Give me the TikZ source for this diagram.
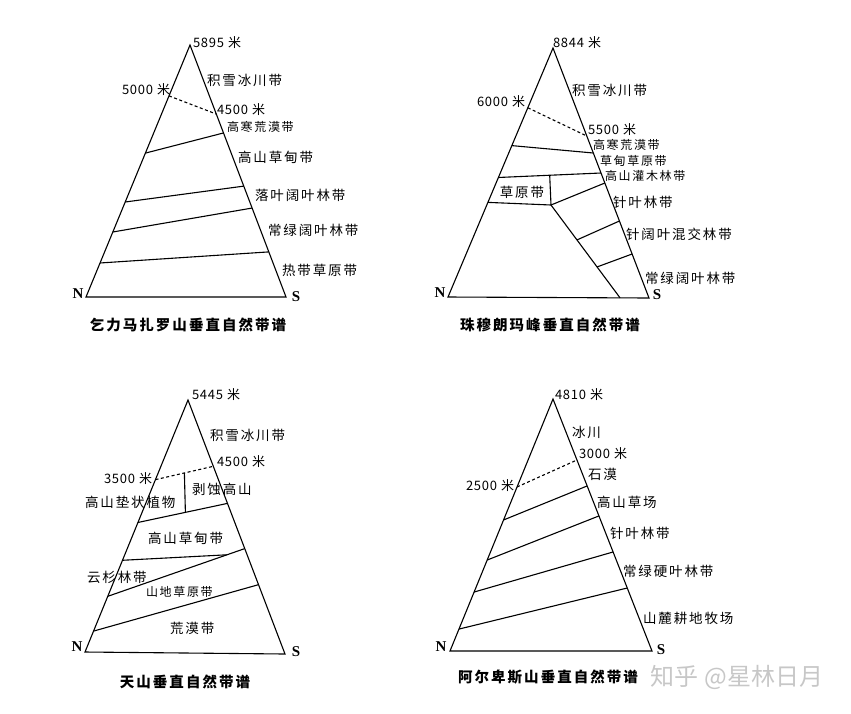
\documentclass[tikz,border=0pt]{standalone}
\usepackage{fontspec}
\setmainfont{Noto Sans CJK SC}
\newfontfamily\lbfont{Noto Sans CJK SC}[LetterSpace=14]
\newfontfamily\nmfont{Noto Sans CJK SC}[LetterSpace=6]
\newfontfamily\nsfont{Liberation Serif}
\usetikzlibrary{calc}
\newcommand{\mi}{\hspace{4pt}米}
\begin{document}
\begin{tikzpicture}[x=1pt,y=-1pt,
  every node/.style={inner sep=0pt,outer sep=0pt},
  edge/.style={line width=1.1pt,black},
  dashline/.style={line width=1.1pt,black,dash pattern=on 3pt off 2.5pt},
  lab/.style={anchor=west,font=\lbfont\fontsize{13.5}{15}\selectfont},
  slab/.style={anchor=west,font=\lbfont\fontsize{12}{14}\selectfont},
  num/.style={anchor=west,font=\nmfont\fontsize{13}{14}\selectfont},
  ttl/.style={font=\lbfont\bfseries\fontsize{14.5}{16}\selectfont},
  cmp/.style={font=\nsfont\bfseries\fontsize{15}{16}\selectfont},
  wm/.style={font=\fontsize{24}{26}\selectfont,text=black!22}]
\useasboundingbox (0,0) rectangle (851,713);

%% ---------- Triangle 1: Kilimanjaro ----------
\coordinate (A1) at (190,45); \coordinate (N1) at (86,297); \coordinate (S1) at (286,297);
\draw[edge] (A1) -- (N1) -- (S1) -- cycle;
\coordinate (d1l) at ($(A1)!.202!(N1)$); \coordinate (d1r) at ($(A1)!.274!(S1)$);
\draw[dashline] (d1l) -- (d1r);
\coordinate (p1l) at ($(A1)!.429!(N1)$); \coordinate (p1r) at ($(A1)!.349!(S1)$);
\coordinate (q1l) at ($(A1)!.623!(N1)$); \coordinate (q1r) at ($(A1)!.560!(S1)$);
\coordinate (r1l) at ($(A1)!.742!(N1)$); \coordinate (r1r) at ($(A1)!.647!(S1)$);
\coordinate (s1l) at ($(A1)!.865!(N1)$); \coordinate (s1r) at ($(A1)!.821!(S1)$);
\draw[edge] (p1l) -- (p1r);
\draw[edge] (q1l) -- (q1r);
\draw[edge] (r1l) -- (r1r);
\draw[edge] (s1l) -- (s1r);
\node[num] (t1a) at (193,43) {5895\mi};
\node[lab] (t1b) at (207,80) {积雪冰川带};
\node[num] (t1c) at (122,90) {5000\mi};
\node[num] (t1d) at (217,110) {4500\mi};
\node[slab] (t1e) at (227,127) {高寒荒漠带};
\node[lab] (t1f) at (238,157) {高山草甸带};
\node[lab] (t1g) at (255,195) {落叶阔叶林带};
\node[lab] (t1h) at (268,230) {常绿阔叶林带};
\node[lab] (t1i) at (282,270) {热带草原带};
\node[cmp] (t1n) at (78,294) {N};
\node[cmp] (t1s) at (296,297) {S};
\node[ttl] (t1t) at (188,325) {乞力马扎罗山垂直自然带谱};

%% ---------- Triangle 2: Everest ----------
\coordinate (A2) at (553,48); \coordinate (N2) at (448,297); \coordinate (S2) at (649,298);
\draw[edge] (A2) -- (N2) -- (S2) -- cycle;
\coordinate (d2l) at ($(A2)!.24!(N2)$); \coordinate (d2r) at ($(A2)!.352!(S2)$);
\draw[dashline] (d2l) -- (d2r);
\coordinate (a2l) at ($(A2)!.392!(N2)$); \coordinate (a2r) at ($(A2)!.42!(S2)$);
\coordinate (b2l) at ($(A2)!.52!(N2)$); \coordinate (b2r) at ($(A2)!.50!(S2)$);
\draw[edge] (a2l) -- (a2r);
\draw[edge] (b2l) -- (b2r);
\coordinate (J2) at (551,205);
\coordinate (box2l) at ($(A2)!.62!(N2)$);
\coordinate (box2t) at ($(b2l)!.5!(b2r)$);
\coordinate (j2r) at ($(A2)!.54!(S2)$);
\coordinate (j2b) at ($(N2)!.856!(S2)$);
\draw[edge] (box2l) -- (J2) -- (box2t);
\draw[edge] (J2) -- (j2r);
\draw[edge] (J2) -- (j2b);
\coordinate (c2l) at ($(J2)!.376!(j2b)$); \coordinate (c2r) at ($(A2)!.692!(S2)$);
\coordinate (e2l) at ($(J2)!.667!(j2b)$); \coordinate (e2r) at ($(A2)!.824!(S2)$);
\draw[edge] (c2l) -- (c2r);
\draw[edge] (e2l) -- (e2r);
\node[num] (t2a) at (553,43) {8844\mi};
\node[lab] (t2b) at (572,90) {积雪冰川带};
\node[num] (t2c) at (477,102) {6000\mi};
\node[num] (t2d) at (588,130) {5500\mi};
\node[slab] (t2e) at (593,145) {高寒荒漠带};
\node[slab] (t2f) at (600,161) {草甸草原带};
\node[slab] (t2g) at (605,176) {高山灌木林带};
\node[lab] (t2h) at (613,202) {针叶林带};
\node[lab] (t2i) at (626,234) {针阔叶混交林带};
\node[lab] (t2j) at (645,278) {常绿阔叶林带};
\node[lab,anchor=center] (t2k) at (522,192) {草原带};
\node[cmp] (t2n) at (440,293) {N};
\node[cmp] (t2s) at (657,295) {S};
\node[ttl] (t2t) at (550,325) {珠穆朗玛峰垂直自然带谱};

%% ---------- Triangle 3: Tianshan ----------
\coordinate (A3) at (188,400); \coordinate (N3) at (85,652); \coordinate (S3) at (285,654);
\draw[edge] (A3) -- (N3) -- (S3) -- cycle;
\coordinate (d3l) at ($(A3)!.316!(N3)$); \coordinate (d3r) at ($(A3)!.261!(S3)$);
\draw[dashline] (d3l) -- (d3r);
\coordinate (a3l) at ($(A3)!.486!(N3)$); \coordinate (a3r) at ($(A3)!.407!(S3)$);
\draw[edge] (a3l) -- (a3r);
\coordinate (v3t) at ($(d3l)!.5!(d3r)$); \coordinate (v3b) at ($(a3l)!.53!(a3r)$);
\draw[edge] (v3t) -- (v3b);
\coordinate (c3l) at ($(A3)!.779!(N3)$); \coordinate (c3r) at ($(A3)!.585!(S3)$);
\draw[edge] (c3l) -- (c3r);
\coordinate (b3l) at ($(A3)!.636!(N3)$); \coordinate (b3r) at ($(c3l)!.87!(c3r)$);
\draw[edge] (b3l) -- (b3r);
\coordinate (e3l) at ($(A3)!.917!(N3)$); \coordinate (e3r) at ($(A3)!.727!(S3)$);
\draw[edge] (e3l) -- (e3r);
\node[num] (t3a) at (192,395) {5445\mi};
\node[lab] (t3b) at (210,435) {积雪冰川带};
\node[num] (t3c) at (217,462) {4500\mi};
\node[num] (t3d) at (104,479) {3500\mi};
\node[lab] (t3e) at (85,502) {高山垫状植物};
\node[lab] (t3f) at (192,489) {剥蚀高山};
\node[lab] (t3g) at (148,538) {高山草甸带};
\node[lab] (t3h) at (87,577) {云杉林带};
\node[slab] (t3i) at (146,592) {山地草原带};
\node[lab] (t3j) at (170,628) {荒漠带};
\node[cmp] (t3n) at (77,647) {N};
\node[cmp] (t3s) at (296,652) {S};
\node[ttl] (t3t) at (185,682) {天山垂直自然带谱};

%% ---------- Triangle 4: Alps ----------
\coordinate (A4) at (553,399); \coordinate (N4) at (450,651); \coordinate (S4) at (652,651);
\draw[edge] (A4) -- (N4) -- (S4) -- cycle;
\coordinate (d4l) at ($(A4)!.349!(N4)$); \coordinate (d4r) at ($(A4)!.242!(S4)$);
\draw[dashline] (d4l) -- (d4r);
\coordinate (a4l) at ($(A4)!.48!(N4)$); \coordinate (a4r) at ($(A4)!.345!(S4)$);
\coordinate (b4l) at ($(A4)!.639!(N4)$); \coordinate (b4r) at ($(A4)!.464!(S4)$);
\coordinate (c4l) at ($(A4)!.766!(N4)$); \coordinate (c4r) at ($(A4)!.607!(S4)$);
\coordinate (e4l) at ($(A4)!.913!(N4)$); \coordinate (e4r) at ($(A4)!.75!(S4)$);
\draw[edge] (a4l) -- (a4r);
\draw[edge] (b4l) -- (b4r);
\draw[edge] (c4l) -- (c4r);
\draw[edge] (e4l) -- (e4r);
\node[num] (t4a) at (555,395) {4810\mi};
\node[lab] (t4b) at (572,432) {冰川};
\node[num] (t4c) at (579,454) {3000\mi};
\node[lab] (t4d) at (588,474) {石漠};
\node[num] (t4e) at (466,486) {2500\mi};
\node[lab] (t4f) at (597,502) {高山草场};
\node[lab] (t4g) at (610,533) {针叶林带};
\node[lab] (t4h) at (623,571) {常绿硬叶林带};
\node[lab] (t4i) at (643,618) {山麓耕地牧场};
\node[cmp] (t4n) at (441,647) {N};
\node[cmp] (t4s) at (661,650) {S};
\node[ttl] (t4t) at (548,677) {阿尔卑斯山垂直自然带谱};
\node[wm] (wmk) at (737,677) {知乎 @星林日月};
\end{tikzpicture}
\end{document}
